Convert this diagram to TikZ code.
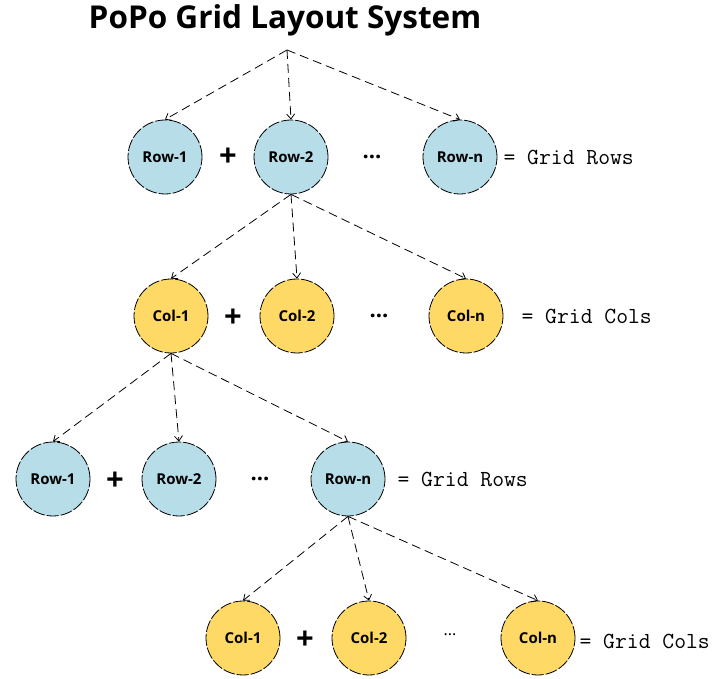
\documentclass[tikz,border=0pt]{standalone}
\usepackage{fontspec}
\setsansfont{Open Sans}[BoldFont={Open Sans Bold}]
\usetikzlibrary{arrows.meta,positioning}

\definecolor{rowblue}{RGB}{182,221,232}
\definecolor{colyellow}{RGB}{255,217,102}

\begin{document}
\begin{tikzpicture}[
    x=1pt, y=-1pt,
    >={Straight Barb[length=5pt,width=8pt]},
    cell/.style={circle,draw,line width=0.8pt,dash pattern=on 12pt off 2pt,minimum size=74pt,inner sep=0pt,
                 font=\sffamily\bfseries\fontsize{15}{17}\selectfont},
    rowcell/.style={cell,fill=rowblue},
    colcell/.style={cell,fill=colyellow},
    plus/.style={font=\sffamily\bfseries\fontsize{31}{32}\selectfont},
    dots/.style={font=\sffamily\bfseries\fontsize{22}{24}\selectfont},
    eq/.style={anchor=west,font=\ttfamily\fontsize{23}{25}\selectfont},
    link/.style={->,line width=0.8pt,dash pattern=on 9pt off 5pt}
]
    \useasboundingbox (0,0) rectangle (716,679);

    % Title
    \node[font=\sffamily\bfseries\fontsize{31.5}{34}\selectfont] (title) at (285,20) {PoPo Grid Layout System};
    \coordinate (root) at (287,50);

    % Nodes, first rows
    \node[rowcell] (rowA1) at (165,157) {Row-1};
    \node[plus] (plusA) at (228,157) {+};
    \node[rowcell] (rowA2) at (291,157) {Row-2};
    \node[dots] (dotsA) at (372,157) {...};
    \node[rowcell] (rowAn) at (460,157) {Row-n};
    \node[eq] (eqA) at (500,157) {= Grid Rows};

    % Nodes, cols of Row-2
    \node[colcell] (colB1) at (171,316) {Col-1};
    \node[plus] (plusB) at (233,318) {+};
    \node[colcell] (colB2) at (297,316) {Col-2};
    \node[dots] (dotsB) at (379,316) {...};
    \node[colcell] (colBn) at (466,316) {Col-n};
    \node[eq] (eqB) at (518,316) {= Grid Cols};

    % Nodes, rows of Col-1
    \node[rowcell] (rowC1) at (53,479) {Row-1};
    \node[plus] (plusC) at (115,481) {+};
    \node[rowcell] (rowC2) at (179,479) {Row-2};
    \node[dots] (dotsC) at (260,479) {...};
    \node[rowcell] (rowCn) at (348,479) {Row-n};
    \node[eq] (eqC) at (394,479) {= Grid Rows};

    % Nodes, cols of Row-n
    \node[colcell] (colD1) at (243,638) {Col-1};
    \node[plus] (plusD) at (305,640) {+};
    \node[colcell] (colD2) at (369,638) {Col-2};
    \node[dots,font=\sffamily\fontsize{16}{18}\selectfont] (dotsD) at (450,635) {...};
    \node[colcell] (colDn) at (538,638) {Col-n};
    \node[eq] (eqD) at (576,641) {= Grid Cols};

    % Edges
    \draw[link] (root) -- (rowA1.north);
    \draw[link] (root) -- (rowA2.north);
    \draw[link] (root) -- (rowAn.north);
    \draw[link] (rowA2.south) -- (colB1.north);
    \draw[link] (rowA2.south) -- (colB2.north);
    \draw[link] (rowA2.south) -- (colBn.north);
    \draw[link] (colB1.south) -- (rowC1.north);
    \draw[link] (colB1.south) -- (rowC2.north);
    \draw[link] (colB1.south) -- (rowCn.north);
    \draw[link] (rowCn.south) -- (colD1.north);
    \draw[link] (rowCn.south) -- (colD2.north);
    \draw[link] (rowCn.south) -- (colDn.north);
\end{tikzpicture}
\end{document}
